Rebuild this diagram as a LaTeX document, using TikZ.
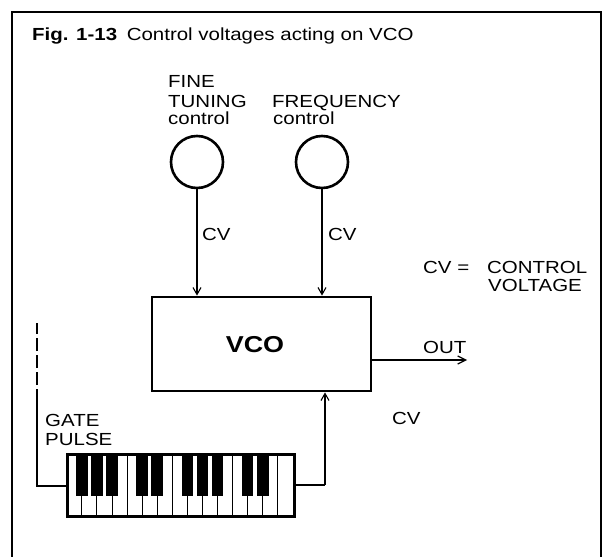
\documentclass[tikz,border=0pt]{standalone}
\usepackage{fontspec}
\setmainfont{Liberation Sans}[FakeStretch=1.17]
\usetikzlibrary{arrows.meta,calc}
\tikzset{
  lbl/.style={inner sep=0pt, anchor=base west, font=\fontsize{17.5}{20}\selectfont},
  knob/.style={draw, circle, line width=2.6pt, minimum size=52pt, inner sep=0pt},
  cvline/.style={line width=1.1pt, -{Straight Barb[length=7pt,width=8pt,line width=1.1pt]}},
  wire/.style={line width=1.1pt},
  frame/.style={line width=2.4pt},
}
\begin{document}
\begin{tikzpicture}[x=1pt,y=-1pt]
\useasboundingbox (0,0) rectangle (609,556);
\clip (0,0) rectangle (609,556);
% frame
\draw[frame] (12,570) -- (12,12) -- (601,12) -- (601,570);
% title
\node[lbl] (title) at (32,41) {\textbf{Fig. 1-13}\hspace{0.55em}Control voltages acting on VCO};
% knob labels
\node[lbl] (fine1) at (168,88) {FINE};
\node[lbl] (fine2) at (168,108) {TUNING};
\node[lbl] (fine3) at (168,125) {control};
\node[lbl] (freq1) at (272,108) {FREQUENCY};
\node[lbl] (freq2) at (273,125) {control};
% knobs
\node[knob] (fine) at (197,162) {};
\node[knob] (freq) at (322,162) {};
% VCO box
\node[draw, line width=2.8pt, minimum width=219pt, minimum height=94pt, inner sep=0pt] (vco) at (261.5,344) {};
\node[inner sep=0pt, anchor=base, font=\fontsize{23}{26}\selectfont\bfseries] (vcotxt) at (255,352) {VCO};
% CV arrows from knobs
\draw[cvline] (fine.south) -- (fine.south |- vco.north);
\draw[cvline] (freq.south) -- (freq.south |- vco.north);
\node[lbl] (cv1) at (202,240) {CV};
\node[lbl] (cv2) at (328,240) {CV};
% legend
\node[lbl] (cveq) at (423,273) {CV =};
\node[lbl] (leg1) at (487,273) {CONTROL};
\node[lbl] (leg2) at (488,291) {VOLTAGE};
% OUT
\coordinate (outend) at (467,360);
\draw[line width=2pt, -{Straight Barb[length=8pt,width=8pt,line width=1.2pt]}] (vco.east |- outend) -- (outend);
\node[lbl] (outlbl) at (423,353) {OUT};
% keyboard
\node[draw, line width=2.4pt, minimum width=226pt, minimum height=61pt, inner sep=0pt] (kb) at (181,485.5) {};
\foreach \i in {1,...,14}{
  \draw[line width=1pt] ($(kb.north west)+(\i*15.07,0)$) -- ($(kb.south west)+(\i*15.07,0)$);
}
\foreach \i in {1,2,3,5,6,8,9,10,12,13}{
  \fill ($(kb.north west)+(\i*15.07-5.8,0)$) rectangle ($(kb.north west)+(\i*15.07+5.8,42)$);
}
\draw[line width=2.4pt] (kb.north west) rectangle (kb.south east);
% gate pulse wire
\coordinate (gcorner) at (37,486);
\coordinate (gsolid) at (37,402);
\coordinate (gtop) at (37,323);
\draw[wire] (kb.west |- gcorner) -- (gcorner) -- (gsolid);
\draw[wire, dash pattern=on 13pt off 4pt] (gsolid) -- (gtop);
\node[lbl] (gate1) at (45,426) {GATE};
\node[lbl] (gate2) at (45,445) {PULSE};
% keyboard CV
\coordinate (kcorner) at (325,485);
\draw[wire] (kb.east |- kcorner) -- (kcorner);
\draw[cvline] (kcorner) -- (kcorner |- vco.south);
\node[lbl] (cv3) at (392,424) {CV};
\end{tikzpicture}
\end{document}
